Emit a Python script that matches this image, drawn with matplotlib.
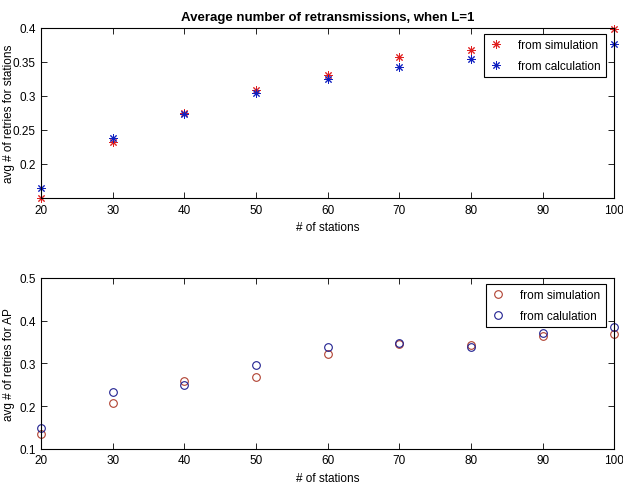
import numpy as np
import matplotlib
matplotlib.use('Agg')
import matplotlib.pyplot as plt

plt.rcParams['font.family'] = 'Liberation Sans'
plt.rcParams['font.size'] = 8

# Data
stations = [20, 30, 40, 50, 60, 70, 80, 90, 100]

# top: retries for stations
sta_sim = [0.150, 0.233, 0.275, 0.309, 0.331, 0.357, 0.368, 0.380, 0.398]
sta_calc = [0.164, 0.238, 0.274, 0.304, 0.325, 0.343, 0.354, 0.366, 0.377]

# bottom: retries for AP
ap_sim = [0.135, 0.208, 0.259, 0.267, 0.322, 0.346, 0.342, 0.364, 0.368]
ap_calc = [0.149, 0.232, 0.249, 0.296, 0.337, 0.348, 0.337, 0.371, 0.384]

fig = plt.figure(figsize=(6.23, 4.89), dpi=100)

star = (8, 2, 0)  # matlab-like asterisk

def style_axes(ax):
    ax.tick_params(direction='in', top=True, right=True, length=4, width=0.6,
                   labelsize=8.5, pad=4)
    for s in ax.spines.values():
        s.set_linewidth(0.8)
    ax.set_xlim(20, 100)
    ax.set_xticks(range(20, 101, 10))
    ax.yaxis.set_label_coords(-0.046, 0.5)

def add_legend(ax):
    leg = ax.legend(loc='upper right', bbox_to_anchor=(0.991, 0.985), fancybox=False,
                    edgecolor='black', framealpha=1, handlelength=1.1,
                    handletextpad=1.3, borderpad=0.45, labelspacing=0.75, fontsize=8.5,
                    borderaxespad=0.3)
    leg.get_frame().set_linewidth(0.8)
    leg.set_zorder(5)

# Top panel
ax1 = fig.add_axes([0.066, 0.593, 0.920, 0.348])
ax1.plot(stations, sta_sim, ls='none', marker=star, color='#e02020', ms=6, mew=0.7,
         label='from simulation', clip_on=False)
ax1.plot(stations, sta_calc, ls='none', marker=star, color='#1020c0', ms=6, mew=0.7,
         label='from calculation', clip_on=False)
style_axes(ax1)
ax1.set_ylim(0.15, 0.4)
ax1.set_yticks([0.2, 0.25, 0.3, 0.35, 0.4])
ax1.set_yticklabels(['0.2', '0.25', '0.3', '0.35', '0.4'])
ax1.set_xlabel('# of stations', labelpad=4, fontsize=8.5)
ax1.set_ylabel('avg # of retries for stations', fontsize=8.5)
ax1.set_title('Average number of retransmissions, when L=1', fontsize=9.5,
              fontweight='bold', pad=6)
add_legend(ax1)

# Bottom panel
ax2 = fig.add_axes([0.066, 0.080, 0.920, 0.350])
ax2.plot(stations, ap_sim, 'o', mfc='none', mec='#b04030', ms=5.5, mew=0.8,
         label='from simulation', clip_on=False)
ax2.plot(stations, ap_calc, 'o', mfc='none', mec='#202090', ms=5.5, mew=0.8,
         label='from calulation', clip_on=False)
style_axes(ax2)
ax2.set_ylim(0.1, 0.5)
ax2.set_yticks([0.1, 0.2, 0.3, 0.4, 0.5])
ax2.set_xlabel('# of stations', labelpad=4, fontsize=8.5)
ax2.set_ylabel('avg # of retries for AP', fontsize=8.5)
add_legend(ax2)

fig.savefig('out.png', dpi=100)
